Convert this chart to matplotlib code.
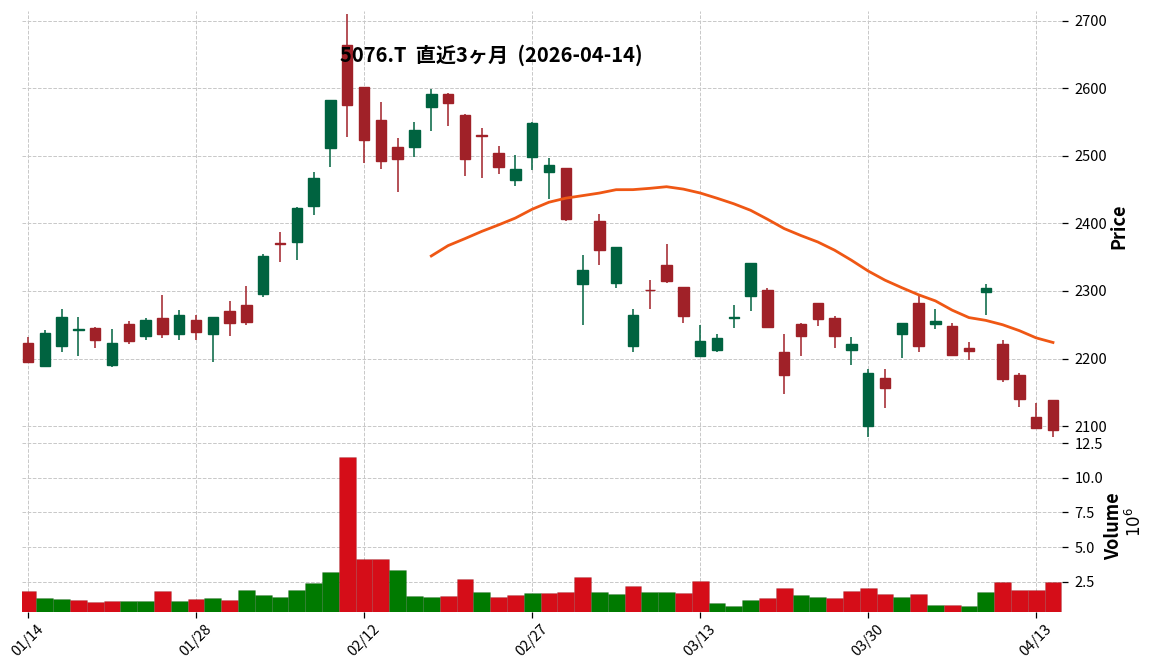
import numpy as np
import pandas as pd
import matplotlib
matplotlib.use("Agg")
import matplotlib.pyplot as plt

plt.rcParams['font.family'] = ['Noto Sans CJK JP', 'DejaVu Sans']

# Datos diarios (5076.T, ultimos 3 meses)
fechas = ["01/14", "01/15", "01/16", "01/19", "01/20", "01/21", "01/22", "01/23", "01/26", "01/27",
          "01/28", "01/29", "01/30", "02/02", "02/03", "02/04", "02/05", "02/06", "02/09", "02/10",
          "02/12", "02/13", "02/16", "02/17", "02/18", "02/19", "02/20", "02/24", "02/25", "02/26",
          "02/27", "03/02", "03/03", "03/04", "03/05", "03/06", "03/09", "03/10", "03/11", "03/12",
          "03/13", "03/16", "03/17", "03/18", "03/19", "03/23", "03/24", "03/25", "03/26", "03/27",
          "03/30", "03/31", "04/01", "04/02", "04/03", "04/06", "04/07", "04/08", "04/09", "04/10",
          "04/13", "04/14"]

apertura = [2223, 2189, 2218, 2242, 2245, 2190, 2251, 2234, 2260, 2237,
            2257, 2237, 2270, 2279, 2296, 2371, 2373, 2426, 2512, 2664,
            2602, 2553, 2513, 2514, 2572, 2592, 2561, 2531, 2504, 2464,
            2498, 2477, 2482, 2311, 2404, 2312, 2218, 2302, 2338, 2306,
            2203, 2213, 2260, 2292, 2301, 2210, 2251, 2282, 2260, 2213,
            2100, 2171, 2237, 2282, 2251, 2248, 2215, 2299, 2221, 2176,
            2114, 2138]
maximo = [2232, 2242, 2273, 2261, 2246, 2243, 2256, 2260, 2294, 2272,
          2265, 2262, 2285, 2307, 2355, 2387, 2425, 2476, 2583, 2710,
          2602, 2580, 2526, 2550, 2599, 2593, 2562, 2541, 2515, 2501,
          2550, 2497, 2482, 2353, 2414, 2365, 2274, 2317, 2369, 2306,
          2250, 2236, 2279, 2342, 2305, 2237, 2252, 2282, 2263, 2232,
          2185, 2185, 2252, 2296, 2274, 2252, 2224, 2311, 2228, 2178,
          2134, 2139]
minimo = [2195, 2189, 2210, 2204, 2215, 2187, 2222, 2227, 2231, 2228,
          2227, 2195, 2233, 2250, 2291, 2343, 2346, 2413, 2483, 2528,
          2490, 2481, 2446, 2498, 2537, 2545, 2470, 2468, 2474, 2456,
          2479, 2436, 2403, 2250, 2339, 2304, 2209, 2274, 2312, 2253,
          2202, 2209, 2245, 2270, 2247, 2148, 2204, 2248, 2215, 2191,
          2084, 2127, 2201, 2210, 2243, 2205, 2198, 2265, 2165, 2128,
          2095, 2084]
cierre = [2195, 2238, 2262, 2243, 2227, 2223.5, 2226, 2257, 2237, 2265,
          2240, 2262, 2253, 2254.5, 2352, 2370, 2422.5, 2467, 2583, 2576,
          2524, 2493, 2496, 2538.5, 2592, 2579, 2496, 2530, 2483, 2481,
          2549, 2487, 2407, 2331, 2360, 2365, 2264, 2301, 2315, 2263.5,
          2226, 2230, 2261, 2341.5, 2247, 2176, 2234, 2259, 2234, 2221.5,
          2178, 2157, 2252, 2219, 2256, 2205, 2211.6, 2304, 2170, 2140,
          2097.5, 2094]
# Volumen en millones de acciones
volumen = [1.80, 1.30, 1.23, 1.16, 1.01, 1.09, 1.09, 1.09, 1.80, 1.09,
           1.23, 1.30, 1.16, 1.88, 1.52, 1.37, 1.88, 2.38, 3.17, 11.52,
           4.11, 4.11, 3.32, 1.45, 1.37, 1.45, 2.67, 1.73, 1.37, 1.52,
           1.66, 1.66, 1.73, 2.81, 1.73, 1.59, 2.16, 1.73, 1.73, 1.66,
           2.52, 0.94, 0.73, 1.16, 1.30, 2.02, 1.52, 1.37, 1.30, 1.80,
           2.02, 1.59, 1.37, 1.59, 0.80, 0.80, 0.73, 1.73, 2.45, 1.88,
           1.88, 2.45]

titulo = "5076.T  直近3ヶ月  (2026-04-14)"

# Colores (estilo charles)
c_sube = "#006340"
c_baja = "#a02128"
v_sube = "#007a00"
v_baja = "#d50d18"
c_media = "#ef5714"
c_grid = "#c8c8c8"

df = pd.DataFrame({"Open": apertura, "High": maximo, "Low": minimo,
                   "Close": cierre, "Volume": volumen}, index=fechas)
x = np.arange(len(df))
sube = df["Close"] >= df["Open"]
# color del volumen segun el cierre anterior
prev = df["Close"].shift(1).fillna(df["Open"])
vol_sube = df["Close"] >= prev
media25 = df["Close"].rolling(25).mean()

fig = plt.figure(figsize=(11.56, 6.70), dpi=100)
ax1 = fig.add_axes([0.01903, 0.3418, 0.8997, 0.6418])
ax2 = fig.add_axes([0.01903, 0.0866, 0.8997, 0.2552], sharex=ax1)

# Velas
colores = np.where(sube, c_sube, c_baja)
ax1.vlines(x, df["Low"], df["High"], colors=colores, linewidth=1.1, zorder=3)
cuerpo_base = np.minimum(df["Open"], df["Close"])
cuerpo_alto = np.abs(df["Close"] - df["Open"])
ax1.bar(x, cuerpo_alto, bottom=cuerpo_base, width=0.62, color=colores,
        edgecolor=colores, linewidth=1.0, zorder=4)
ax1.plot(x, media25, color=c_media, linewidth=2.0, zorder=5)

# Volumen
ax2.bar(x, df["Volume"], width=1.0, color=np.where(vol_sube, v_sube, v_baja),
        edgecolor=(0, 0, 0, 0.12), linewidth=0.6, zorder=3)

for ax in (ax1, ax2):
    for s in ax.spines.values():
        s.set_visible(False)
    ax.grid(True, color=c_grid, linestyle="--", linewidth=0.7)
    ax.set_axisbelow(True)
    ax.yaxis.tick_right()
    ax.yaxis.set_label_position("right")
    ax.tick_params(axis="y", length=4, width=0.9, pad=5, labelsize=10.5)

ax1.set_xlim(-0.36, 61.54)
ax1.set_ylim(2077.8, 2714.8)
ax1.set_yticks([2100, 2200, 2300, 2400, 2500, 2600, 2700])
ax1.tick_params(axis="x", which="both", bottom=False, labelbottom=False)
ax1.set_ylabel("Price", fontsize=13, fontweight="bold", labelpad=1.5)

ax2.set_ylim(0.3, 12.67)
ax2.set_yticks([2.5, 5.0, 7.5, 10.0, 12.5])
ax2.set_yticklabels(["2.5", "5.0", "7.5", "10.0", "12.5"])
ax2.set_ylabel("Volume", fontsize=13, fontweight="bold", labelpad=0.5)
ax2.set_xticks(x[::10])
ax2.set_xticklabels(df.index[::10], rotation=45, ha="center", fontsize=10.5)
ax2.tick_params(axis="x", length=4, width=0.9)
fig.text(0.982, 0.221, "$10^{6}$", rotation=90, fontsize=12, ha="center", va="center")

fig.text(0.4247, 0.918, titulo, fontsize=14.5, fontweight="bold", ha="center", va="center")

fig.savefig("out.png", dpi=100)
